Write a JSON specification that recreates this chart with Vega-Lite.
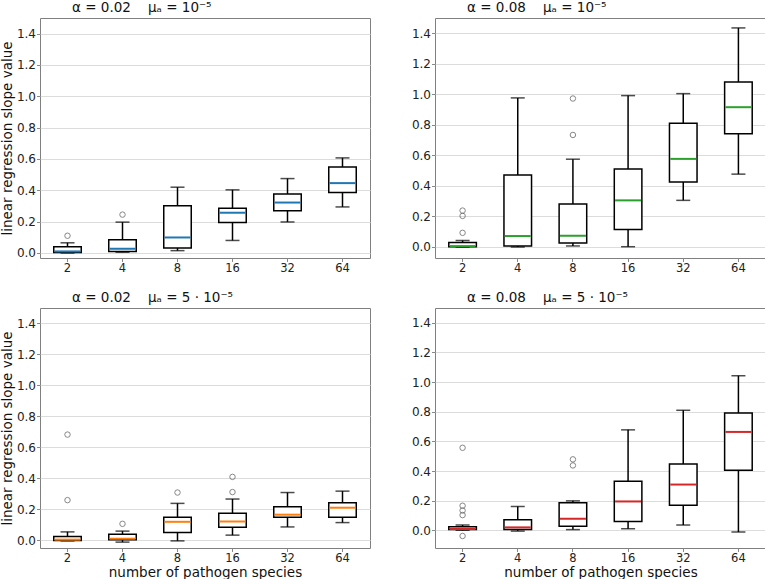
{
  "$schema": "https://vega.github.io/schema/vega-lite/v6.json",
  "padding": {"left": 0, "top": 0, "right": 0, "bottom": 0},
  "config": {
    "font": "DejaVu Sans",
    "view": {"stroke": "#808080", "strokeWidth": 1},
    "axis": {"labelFontSize": 12, "labelColor": "#222222", "tickColor": "#888888", "tickSize": 3.5, "domain": false, "labelPadding": 1.5, "titleFontSize": 13.5, "titleFontWeight": "normal", "titleColor": "#111111", "labelOverlap": false},
    "axisX": {"grid": false, "labelAngle": 0, "titlePadding": 1.5, "labelPadding": 1, "labelFontSize": 11.5},
    "axisY": {"gridColor": "#dcdcdc", "titlePadding": 1.5, "labelPadding": 1, "tickCount": 8},
    "title": {"fontSize": 13.5, "fontWeight": "normal", "anchor": "start", "frame": "group", "dx": 32, "offset": 3.5, "color": "#111111"}
  },
  "datasets": {
    "boxes": [
      {"panel": "TL", "n": "2", "lo": 0.0, "q1": 0.003, "med": 0.01, "q3": 0.04, "hi": 0.065},
      {"panel": "TL", "n": "4", "lo": 0.005, "q1": 0.01, "med": 0.027, "q3": 0.085, "hi": 0.197},
      {"panel": "TL", "n": "8", "lo": 0.015, "q1": 0.032, "med": 0.099, "q3": 0.302, "hi": 0.42},
      {"panel": "TL", "n": "16", "lo": 0.08, "q1": 0.194, "med": 0.257, "q3": 0.285, "hi": 0.403},
      {"panel": "TL", "n": "32", "lo": 0.198, "q1": 0.27, "med": 0.322, "q3": 0.377, "hi": 0.475},
      {"panel": "TL", "n": "64", "lo": 0.294, "q1": 0.386, "med": 0.446, "q3": 0.549, "hi": 0.607},
      {"panel": "TR", "n": "2", "lo": -0.002, "q1": 0.0, "med": 0.004, "q3": 0.028, "hi": 0.041},
      {"panel": "TR", "n": "4", "lo": -0.002, "q1": 0.005, "med": 0.07, "q3": 0.47, "hi": 0.976},
      {"panel": "TR", "n": "8", "lo": 0.005, "q1": 0.024, "med": 0.072, "q3": 0.28, "hi": 0.574},
      {"panel": "TR", "n": "16", "lo": 0.0, "q1": 0.113, "med": 0.304, "q3": 0.509, "hi": 0.991},
      {"panel": "TR", "n": "32", "lo": 0.304, "q1": 0.424, "med": 0.576, "q3": 0.809, "hi": 1.004},
      {"panel": "TR", "n": "64", "lo": 0.476, "q1": 0.741, "med": 0.915, "q3": 1.08, "hi": 1.435},
      {"panel": "BL", "n": "2", "lo": -0.003, "q1": 0.0, "med": 0.005, "q3": 0.026, "hi": 0.055},
      {"panel": "BL", "n": "4", "lo": -0.011, "q1": 0.004, "med": 0.011, "q3": 0.04, "hi": 0.06},
      {"panel": "BL", "n": "8", "lo": -0.003, "q1": 0.051, "med": 0.12, "q3": 0.149, "hi": 0.239},
      {"panel": "BL", "n": "16", "lo": 0.034, "q1": 0.085, "med": 0.122, "q3": 0.175, "hi": 0.267},
      {"panel": "BL", "n": "32", "lo": 0.087, "q1": 0.149, "med": 0.166, "q3": 0.218, "hi": 0.309},
      {"panel": "BL", "n": "64", "lo": 0.115, "q1": 0.149, "med": 0.211, "q3": 0.243, "hi": 0.318},
      {"panel": "BR", "n": "2", "lo": 0.0, "q1": 0.005, "med": 0.009, "q3": 0.025, "hi": 0.036},
      {"panel": "BR", "n": "4", "lo": -0.005, "q1": 0.005, "med": 0.02, "q3": 0.072, "hi": 0.161},
      {"panel": "BR", "n": "8", "lo": 0.005, "q1": 0.027, "med": 0.078, "q3": 0.186, "hi": 0.199},
      {"panel": "BR", "n": "16", "lo": 0.011, "q1": 0.06, "med": 0.195, "q3": 0.331, "hi": 0.678},
      {"panel": "BR", "n": "32", "lo": 0.036, "q1": 0.17, "med": 0.309, "q3": 0.447, "hi": 0.81},
      {"panel": "BR", "n": "64", "lo": -0.011, "q1": 0.405, "med": 0.664, "q3": 0.792, "hi": 1.043}
    ],
    "outliers": [
      {"panel": "TL", "n": "2", "v": 0.11},
      {"panel": "TL", "n": "4", "v": 0.245},
      {"panel": "TR", "n": "2", "v": 0.091},
      {"panel": "TR", "n": "2", "v": 0.202},
      {"panel": "TR", "n": "2", "v": 0.237},
      {"panel": "TR", "n": "8", "v": 0.733},
      {"panel": "TR", "n": "8", "v": 0.972},
      {"panel": "BL", "n": "2", "v": 0.26},
      {"panel": "BL", "n": "2", "v": 0.683},
      {"panel": "BL", "n": "4", "v": 0.107},
      {"panel": "BL", "n": "8", "v": 0.309},
      {"panel": "BL", "n": "16", "v": 0.312},
      {"panel": "BL", "n": "16", "v": 0.41},
      {"panel": "BR", "n": "2", "v": -0.038},
      {"panel": "BR", "n": "2", "v": 0.103},
      {"panel": "BR", "n": "2", "v": 0.134},
      {"panel": "BR", "n": "2", "v": 0.166},
      {"panel": "BR", "n": "2", "v": 0.557},
      {"panel": "BR", "n": "8", "v": 0.438},
      {"panel": "BR", "n": "8", "v": 0.479}
    ]
  },
  "columns": 2,
  "spacing": {"row": 15, "column": 39},
  "concat": [
    {
      "width": 330, "height": 240,
      "title": {"text": "α = 0.02\u00a0\u00a0\u00a0\u00a0μₐ = 10⁻⁵"},
      "layer": [
        {"data": {"name": "boxes"}, "transform": [{"filter": "datum.panel == 'TL'"}],
         "mark": {"type": "rule", "color": "black", "strokeWidth": 1.5},
         "encoding": {
           "x": {"field": "n", "type": "ordinal", "sort": ["2", "4", "8", "16", "32", "64"], "scale": {"paddingInner": 0, "paddingOuter": 0}, "axis": {"title": null}},
           "y": {"field": "lo", "type": "quantitative", "scale": {"domain": [-0.032, 1.5], "nice": false, "zero": false}, "axis": {"title": "linear regression slope value", "values": [0, 0.2, 0.4, 0.6, 0.8, 1.0, 1.2, 1.4], "format": ".1f"}},
           "y2": {"field": "hi"}}},
        {"data": {"name": "boxes"}, "transform": [{"filter": "datum.panel == 'TL'"}],
         "mark": {"type": "tick", "color": "black", "size": 14, "thickness": 1.5},
         "encoding": {"x": {"field": "n", "type": "ordinal", "sort": ["2", "4", "8", "16", "32", "64"]}, "y": {"field": "lo", "type": "quantitative"}}},
        {"data": {"name": "boxes"}, "transform": [{"filter": "datum.panel == 'TL'"}],
         "mark": {"type": "tick", "color": "black", "size": 14, "thickness": 1.5},
         "encoding": {"x": {"field": "n", "type": "ordinal", "sort": ["2", "4", "8", "16", "32", "64"]}, "y": {"field": "hi", "type": "quantitative"}}},
        {"data": {"name": "boxes"}, "transform": [{"filter": "datum.panel == 'TL'"}],
         "mark": {"type": "bar", "fill": "white", "stroke": "black", "strokeWidth": 1.5, "width": {"band": 0.5}},
         "encoding": {"x": {"field": "n", "type": "ordinal", "sort": ["2", "4", "8", "16", "32", "64"]}, "y": {"field": "q1", "type": "quantitative"}, "y2": {"field": "q3"}}},
        {"data": {"name": "boxes"}, "transform": [{"filter": "datum.panel == 'TL'"}],
         "mark": {"type": "tick", "color": "#1f77b4", "size": 26, "thickness": 2, "opacity": 1},
         "encoding": {"x": {"field": "n", "type": "ordinal", "sort": ["2", "4", "8", "16", "32", "64"]}, "y": {"field": "med", "type": "quantitative"}}},
        {"data": {"name": "outliers"}, "transform": [{"filter": "datum.panel == 'TL'"}],
         "mark": {"type": "point", "shape": "circle", "filled": false, "color": "#555555", "size": 30, "strokeWidth": 1},
         "encoding": {"x": {"field": "n", "type": "ordinal", "sort": ["2", "4", "8", "16", "32", "64"]}, "y": {"field": "v", "type": "quantitative"}}}
      ]
    },
    {
      "width": 331, "height": 240,
      "title": {"text": "α = 0.08\u00a0\u00a0\u00a0\u00a0μₐ = 10⁻⁵"},
      "layer": [
        {"data": {"name": "boxes"}, "transform": [{"filter": "datum.panel == 'TR'"}],
         "mark": {"type": "rule", "color": "black", "strokeWidth": 1.5},
         "encoding": {
           "x": {"field": "n", "type": "ordinal", "sort": ["2", "4", "8", "16", "32", "64"], "scale": {"paddingInner": 0, "paddingOuter": 0}, "axis": {"title": null}},
           "y": {"field": "lo", "type": "quantitative", "scale": {"domain": [-0.074, 1.5], "nice": false, "zero": false}, "axis": {"title": null, "values": [0, 0.2, 0.4, 0.6, 0.8, 1.0, 1.2, 1.4], "format": ".1f"}},
           "y2": {"field": "hi"}}},
        {"data": {"name": "boxes"}, "transform": [{"filter": "datum.panel == 'TR'"}],
         "mark": {"type": "tick", "color": "black", "size": 14, "thickness": 1.5},
         "encoding": {"x": {"field": "n", "type": "ordinal", "sort": ["2", "4", "8", "16", "32", "64"]}, "y": {"field": "lo", "type": "quantitative"}}},
        {"data": {"name": "boxes"}, "transform": [{"filter": "datum.panel == 'TR'"}],
         "mark": {"type": "tick", "color": "black", "size": 14, "thickness": 1.5},
         "encoding": {"x": {"field": "n", "type": "ordinal", "sort": ["2", "4", "8", "16", "32", "64"]}, "y": {"field": "hi", "type": "quantitative"}}},
        {"data": {"name": "boxes"}, "transform": [{"filter": "datum.panel == 'TR'"}],
         "mark": {"type": "bar", "fill": "white", "stroke": "black", "strokeWidth": 1.5, "width": {"band": 0.5}},
         "encoding": {"x": {"field": "n", "type": "ordinal", "sort": ["2", "4", "8", "16", "32", "64"]}, "y": {"field": "q1", "type": "quantitative"}, "y2": {"field": "q3"}}},
        {"data": {"name": "boxes"}, "transform": [{"filter": "datum.panel == 'TR'"}],
         "mark": {"type": "tick", "color": "#2ca02c", "size": 26, "thickness": 2, "opacity": 1},
         "encoding": {"x": {"field": "n", "type": "ordinal", "sort": ["2", "4", "8", "16", "32", "64"]}, "y": {"field": "med", "type": "quantitative"}}},
        {"data": {"name": "outliers"}, "transform": [{"filter": "datum.panel == 'TR'"}],
         "mark": {"type": "point", "shape": "circle", "filled": false, "color": "#555555", "size": 30, "strokeWidth": 1},
         "encoding": {"x": {"field": "n", "type": "ordinal", "sort": ["2", "4", "8", "16", "32", "64"]}, "y": {"field": "v", "type": "quantitative"}}}
      ]
    },
    {
      "width": 330, "height": 240,
      "title": {"text": "α = 0.02\u00a0\u00a0\u00a0\u00a0μₐ = 5 · 10⁻⁵"},
      "layer": [
        {"data": {"name": "boxes"}, "transform": [{"filter": "datum.panel == 'BL'"}],
         "mark": {"type": "rule", "color": "black", "strokeWidth": 1.5},
         "encoding": {
           "x": {"field": "n", "type": "ordinal", "sort": ["2", "4", "8", "16", "32", "64"], "scale": {"paddingInner": 0, "paddingOuter": 0}, "axis": {"title": "number of pathogen species"}},
           "y": {"field": "lo", "type": "quantitative", "scale": {"domain": [-0.049, 1.5], "nice": false, "zero": false}, "axis": {"title": "linear regression slope value", "values": [0, 0.2, 0.4, 0.6, 0.8, 1.0, 1.2, 1.4], "format": ".1f"}},
           "y2": {"field": "hi"}}},
        {"data": {"name": "boxes"}, "transform": [{"filter": "datum.panel == 'BL'"}],
         "mark": {"type": "tick", "color": "black", "size": 14, "thickness": 1.5},
         "encoding": {"x": {"field": "n", "type": "ordinal", "sort": ["2", "4", "8", "16", "32", "64"]}, "y": {"field": "lo", "type": "quantitative"}}},
        {"data": {"name": "boxes"}, "transform": [{"filter": "datum.panel == 'BL'"}],
         "mark": {"type": "tick", "color": "black", "size": 14, "thickness": 1.5},
         "encoding": {"x": {"field": "n", "type": "ordinal", "sort": ["2", "4", "8", "16", "32", "64"]}, "y": {"field": "hi", "type": "quantitative"}}},
        {"data": {"name": "boxes"}, "transform": [{"filter": "datum.panel == 'BL'"}],
         "mark": {"type": "bar", "fill": "white", "stroke": "black", "strokeWidth": 1.5, "width": {"band": 0.5}},
         "encoding": {"x": {"field": "n", "type": "ordinal", "sort": ["2", "4", "8", "16", "32", "64"]}, "y": {"field": "q1", "type": "quantitative"}, "y2": {"field": "q3"}}},
        {"data": {"name": "boxes"}, "transform": [{"filter": "datum.panel == 'BL'"}],
         "mark": {"type": "tick", "color": "#ff7f0e", "size": 26, "thickness": 2, "opacity": 1},
         "encoding": {"x": {"field": "n", "type": "ordinal", "sort": ["2", "4", "8", "16", "32", "64"]}, "y": {"field": "med", "type": "quantitative"}}},
        {"data": {"name": "outliers"}, "transform": [{"filter": "datum.panel == 'BL'"}],
         "mark": {"type": "point", "shape": "circle", "filled": false, "color": "#555555", "size": 30, "strokeWidth": 1},
         "encoding": {"x": {"field": "n", "type": "ordinal", "sort": ["2", "4", "8", "16", "32", "64"]}, "y": {"field": "v", "type": "quantitative"}}}
      ]
    },
    {
      "width": 331, "height": 240,
      "title": {"text": "α = 0.08\u00a0\u00a0\u00a0\u00a0μₐ = 5 · 10⁻⁵"},
      "layer": [
        {"data": {"name": "boxes"}, "transform": [{"filter": "datum.panel == 'BR'"}],
         "mark": {"type": "rule", "color": "black", "strokeWidth": 1.5},
         "encoding": {
           "x": {"field": "n", "type": "ordinal", "sort": ["2", "4", "8", "16", "32", "64"], "scale": {"paddingInner": 0, "paddingOuter": 0}, "axis": {"title": "number of pathogen species"}},
           "y": {"field": "lo", "type": "quantitative", "scale": {"domain": [-0.119, 1.5], "nice": false, "zero": false}, "axis": {"title": null, "values": [0, 0.2, 0.4, 0.6, 0.8, 1.0, 1.2, 1.4], "format": ".1f"}},
           "y2": {"field": "hi"}}},
        {"data": {"name": "boxes"}, "transform": [{"filter": "datum.panel == 'BR'"}],
         "mark": {"type": "tick", "color": "black", "size": 14, "thickness": 1.5},
         "encoding": {"x": {"field": "n", "type": "ordinal", "sort": ["2", "4", "8", "16", "32", "64"]}, "y": {"field": "lo", "type": "quantitative"}}},
        {"data": {"name": "boxes"}, "transform": [{"filter": "datum.panel == 'BR'"}],
         "mark": {"type": "tick", "color": "black", "size": 14, "thickness": 1.5},
         "encoding": {"x": {"field": "n", "type": "ordinal", "sort": ["2", "4", "8", "16", "32", "64"]}, "y": {"field": "hi", "type": "quantitative"}}},
        {"data": {"name": "boxes"}, "transform": [{"filter": "datum.panel == 'BR'"}],
         "mark": {"type": "bar", "fill": "white", "stroke": "black", "strokeWidth": 1.5, "width": {"band": 0.5}},
         "encoding": {"x": {"field": "n", "type": "ordinal", "sort": ["2", "4", "8", "16", "32", "64"]}, "y": {"field": "q1", "type": "quantitative"}, "y2": {"field": "q3"}}},
        {"data": {"name": "boxes"}, "transform": [{"filter": "datum.panel == 'BR'"}],
         "mark": {"type": "tick", "color": "#d62728", "size": 26, "thickness": 2, "opacity": 1},
         "encoding": {"x": {"field": "n", "type": "ordinal", "sort": ["2", "4", "8", "16", "32", "64"]}, "y": {"field": "med", "type": "quantitative"}}},
        {"data": {"name": "outliers"}, "transform": [{"filter": "datum.panel == 'BR'"}],
         "mark": {"type": "point", "shape": "circle", "filled": false, "color": "#555555", "size": 30, "strokeWidth": 1},
         "encoding": {"x": {"field": "n", "type": "ordinal", "sort": ["2", "4", "8", "16", "32", "64"]}, "y": {"field": "v", "type": "quantitative"}}}
      ]
    }
  ]
}
